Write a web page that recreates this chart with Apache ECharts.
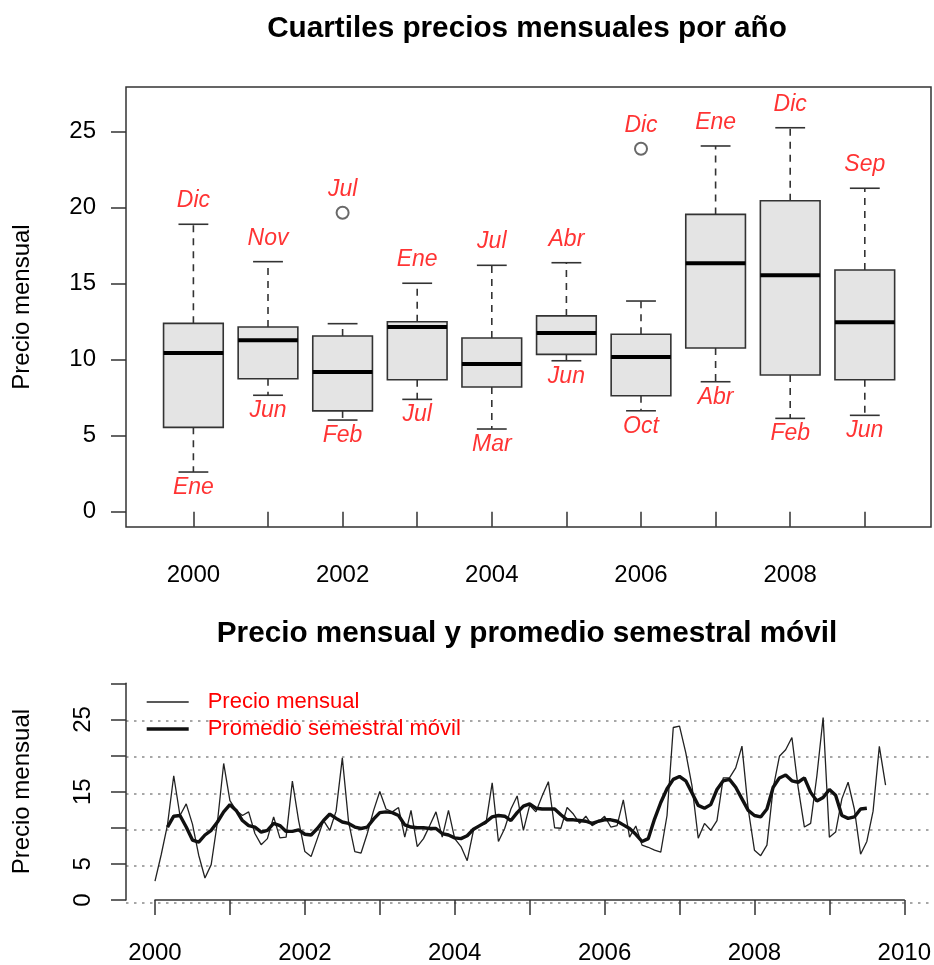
<!DOCTYPE html>
<html><head><meta charset="utf-8">
<script src="https://cdn.jsdelivr.net/npm/echarts@6/dist/echarts.min.js"></script>
<style>html,body{margin:0;padding:0;background:#fff}#c{width:934px;height:965px}</style>
</head><body><div id="c"></div>
<script>
// ---------- data ----------
const years = ['2000','2001','2002','2003','2004','2005','2006','2007','2008','2009'];
const boxMin = [2.61, 7.66, 6.03, 7.39, 5.44, 9.93, 6.64, 8.55, 6.14, 6.34];
const boxQ1  = [5.55, 8.75, 6.63, 8.68, 8.20, 10.35, 7.63, 10.77, 8.99, 8.68];
const boxMed = [10.44, 11.28, 9.19, 12.15, 9.72, 11.76, 10.18, 16.34, 15.55, 12.46];
const boxQ3  = [12.39, 12.15, 11.56, 12.50, 11.43, 12.88, 11.67, 19.56, 20.46, 15.90];
const boxMax = [18.91, 16.45, 12.37, 15.03, 16.21, 16.38, 13.86, 24.06, 25.26, 21.28];
const outlierYear  = [2, 6];          // index into years
const outlierValue = [19.67, 23.88];
const maxMonth = ['Dic','Nov','Jul','Ene','Jul','Abr','Dic','Ene','Dic','Sep'];
const minMonth = ['Ene','Jun','Feb','Jul','Mar','Jun','Oct','Abr','Feb','Jun'];
const topYTicks = [0, 5, 10, 15, 20, 25];

// monthly price Jan 2000 .. Oct 2009
const monthly = [
  2.6, 6.3, 10.4, 17.2, 11.7, 13.3, 10.5, 6.2, 3.05, 4.9, 10.8, 18.9,
  13.75, 12.4, 11.7, 12.2, 9.2, 7.66, 8.5, 11.5, 8.6, 8.7, 16.45, 11.0,
  6.7, 6.03, 8.5, 11.0, 9.65, 12.3, 19.67, 10.8, 6.7, 6.5, 9.2, 12.37,
  15.03, 12.6, 12.2, 12.8, 8.7, 12.4, 7.39, 8.5, 10.3, 12.2, 8.7, 12.4,
  8.5, 7.4, 5.44, 9.65, 10.3, 10.6, 16.21, 8.1, 9.9, 12.6, 14.4, 9.65,
  13.1, 12.2, 14.4, 16.38, 10.0, 9.93, 12.8, 11.9, 10.6, 11.6, 10.3, 10.8,
  11.6, 10.1, 10.3, 13.86, 8.7, 10.25, 7.6, 7.3, 6.9, 6.64, 11.7, 23.88,
  24.06, 20.4, 15.8, 8.55, 10.6, 9.65, 11.0, 16.9, 16.9, 18.3, 21.3, 12.6,
  6.9, 6.14, 7.6, 15.5, 19.9, 20.8, 22.5, 15.6, 10.1, 10.6, 17.2, 25.26,
  8.7, 9.4, 14.0, 16.3, 12.6, 6.34, 8.1, 12.3, 21.28, 15.9
];
// six-month moving average, first value at month index 2 (Mar 2000)
const maStart = 2;
const movingAvg = [
  10.1, 11.6, 11.7, 10.1, 8.3, 8.0, 9.0, 9.65, 10.8, 12.2,
  13.2, 12.4, 11.0, 10.3, 10.1, 9.4, 9.65, 10.6, 10.3, 9.5, 9.5, 9.7,
  9.1, 9.0, 9.9, 11.0, 11.9, 11.3, 10.8, 10.6, 10.1, 9.9, 10.1, 11.2,
  12.1, 12.2, 12.1, 11.7, 10.4, 10.1, 10.0, 10.0, 9.9, 9.9, 9.2, 9.0,
  8.6, 8.5, 8.9, 9.8, 10.3, 10.8, 11.5, 11.7, 11.6, 11.0, 12.1, 13.0,
  13.3, 12.7, 12.6, 12.6, 12.6, 11.8, 11.1, 11.1, 11.0, 10.9, 10.6, 10.9,
  11.1, 11.1, 10.9, 10.4, 9.9, 9.1, 8.1, 8.5, 11.2, 13.5, 15.4, 16.7,
  17.1, 16.5, 14.8, 13.1, 12.7, 13.2, 15.3, 16.5, 16.7, 15.6, 14.0, 12.4,
  11.7, 11.5, 12.6, 15.6, 16.9, 17.3, 16.5, 16.3, 16.9, 14.9, 13.7, 14.2,
  15.3, 14.5, 11.7, 11.3, 11.5, 12.6, 12.7
];
const bottomYLabels = [0, 5, 15, 25];
const bottomXLabels = [2000, 2002, 2004, 2006, 2008, 2010];

// ---------- build ----------
const FONT = "'Liberation Sans', Arial, Helvetica, sans-serif";
const THIN = 1.3, THICK = 3.4;
const boxData = years.map((y, i) => [i, boxMin[i], boxQ1[i], boxMed[i], boxQ3[i], boxMax[i]]);
const outlierData = outlierYear.map((yi, k) => [yi, outlierValue[k]]);
const maxAnchor = years.map((y, i) => {
  let v = boxMax[i];
  outlierYear.forEach((yi, k) => { if (yi === i) v = Math.max(v, outlierValue[k]); });
  return v;
});
const maxLabelData = years.map((y, i) => ({ value: [i, maxAnchor[i]], name: maxMonth[i] }));
const minLabelData = years.map((y, i) => ({ value: [i, boxMin[i]], name: minMonth[i] }));
const monthlyData = monthly.map((v, i) => [2000 + i / 12, v]);
const maData = movingAvg.map((v, k) => [2000 + (k + maStart) / 12, v]);

function renderBox(params, api) {
  const i = api.value(0);
  const pMed = api.coord([i, api.value(3)]);
  const cx = pMed[0];
  const bw = api.size([1, 0])[0] * 0.8;
  const yMin = api.coord([i, api.value(1)])[1];
  const yQ1 = api.coord([i, api.value(2)])[1];
  const yQ3 = api.coord([i, api.value(4)])[1];
  const yMax = api.coord([i, api.value(5)])[1];
  const dash = { stroke: '#333', lineWidth: 1.6, lineDash: [7, 6], fill: null };
  const solid = { stroke: '#333', lineWidth: 1.6, fill: null };
  return {
    type: 'group',
    children: [
      { type: 'line', shape: { x1: cx, y1: yQ3, x2: cx, y2: yMax }, style: dash },
      { type: 'line', shape: { x1: cx, y1: yQ1, x2: cx, y2: yMin }, style: dash },
      { type: 'line', shape: { x1: cx - bw / 4, y1: yMax, x2: cx + bw / 4, y2: yMax }, style: solid },
      { type: 'line', shape: { x1: cx - bw / 4, y1: yMin, x2: cx + bw / 4, y2: yMin }, style: solid },
      { type: 'rect', shape: { x: cx - bw / 2, y: yQ3, width: bw, height: yQ1 - yQ3 },
        style: { fill: '#e4e4e4', stroke: '#333', lineWidth: 1.6 } },
      { type: 'line', shape: { x1: cx - bw / 2, y1: pMed[1], x2: cx + bw / 2, y2: pMed[1] },
        style: { stroke: '#000', lineWidth: 4, fill: null } }
    ]
  };
}

const hidden = { show: false };
const titleStyle = { fontSize: 29.7, fontWeight: 'bold', color: '#000', fontFamily: FONT };
const option = {
  animation: false,
  backgroundColor: '#fff',
  textStyle: { fontFamily: FONT },
  title: [
    { text: 'Cuartiles precios mensuales por año', left: 522, top: 9, textAlign: 'center', textStyle: titleStyle },
    { text: 'Precio mensual y promedio semestral móvil', left: 522, top: 614, textAlign: 'center', textStyle: titleStyle }
  ],
  legend: {
    orient: 'vertical', left: 140, top: 686, itemWidth: 42, itemHeight: 14, itemGap: 5,
    itemStyle: { opacity: 0 },
    textStyle: { color: '#ff0000', fontSize: 22, fontFamily: FONT, padding: [0, 0, 0, 14] },
    data: [
      { name: 'Precio mensual', lineStyle: { width: THIN, color: '#222' } },
      { name: 'Promedio semestral móvil', lineStyle: { width: THICK, color: '#111' } }
    ],
    selectedMode: false
  },
  grid: [
    { left: 126, top: 87, width: 805, height: 440, show: true, borderColor: '#333', borderWidth: 1.5, backgroundColor: 'transparent' },
    { left: 156.1, top: 131.7, width: 746, height: 380 },
    { left: 126, top: 720.7, width: 812, height: 181.6 },
    { left: 155, top: 683.3, width: 751, height: 219 }
  ],
  xAxis: [
    { gridIndex: 0, type: 'value', min: 0, max: 1, show: false },
    { gridIndex: 1, type: 'category', data: years, offset: 15.3,
      axisLine: hidden,
      axisTick: { show: true, alignWithLabel: true, interval: 0, length: 15, lineStyle: { color: '#333', width: 1.5 } },
      axisLabel: { interval: 1, margin: 36, fontSize: 24, color: '#000', fontFamily: FONT } },
    { gridIndex: 2, type: 'value', min: 0, max: 1, show: false },
    { gridIndex: 3, type: 'value', min: 2000, max: 2010, interval: 1, offset: 10,
      axisLine: { show: true, lineStyle: { color: '#333', width: 1.5 } },
      axisTick: { show: true, length: 15, lineStyle: { color: '#333', width: 1.5 } },
      splitLine: hidden,
      axisLabel: { margin: 31, fontSize: 24, color: '#000', fontFamily: FONT,
        formatter: v => bottomXLabels.includes(Math.round(v)) ? String(Math.round(v)) : '' } }
  ],
  yAxis: [
    { gridIndex: 0, type: 'value', min: 0, max: 1, name: 'Precio mensual', nameLocation: 'middle', nameGap: 92,
      nameTextStyle: { fontSize: 24, color: '#000', fontFamily: FONT },
      axisLine: hidden, axisTick: hidden, axisLabel: hidden, splitLine: hidden },
    { gridIndex: 1, type: 'value', min: 0, max: 25, interval: 5, offset: 30.1,
      axisLine: hidden,
      axisTick: { show: true, length: 15, lineStyle: { color: '#333', width: 1.5 } },
      axisLabel: { margin: 30, fontSize: 24, color: '#000', fontFamily: FONT,
        formatter: v => topYTicks.includes(v) ? String(v) : '' },
      splitLine: hidden },
    { gridIndex: 2, type: 'value', min: 0, max: 25, interval: 5,
      axisLine: hidden, axisTick: hidden, axisLabel: hidden,
      splitLine: { show: true, lineStyle: { color: '#8a8a8a', width: 1.5, type: [2.5, 5.5] } } },
    { gridIndex: 3, type: 'value', min: 0, max: 30, interval: 5, offset: 29,
      name: 'Precio mensual', nameLocation: 'middle', nameGap: 92,
      nameTextStyle: { fontSize: 24, color: '#000', fontFamily: FONT },
      axisLine: { show: true, lineStyle: { color: '#333', width: 1.5 } },
      axisTick: { show: true, length: 15, lineStyle: { color: '#333', width: 1.5 } },
      axisLabel: { rotate: 90, margin: 31, fontSize: 24, color: '#000', fontFamily: FONT,
        formatter: v => bottomYLabels.includes(v) ? String(v) : '' },
      splitLine: hidden }
  ],
  series: [
    { type: 'custom', name: 'box', xAxisIndex: 1, yAxisIndex: 1, renderItem: renderBox,
      encode: { x: 0, y: [1, 2, 3, 4, 5] }, data: boxData, clip: false, silent: true, z: 3 },
    { type: 'scatter', name: 'outliers', xAxisIndex: 1, yAxisIndex: 1, data: outlierData,
      symbol: 'emptyCircle', symbolSize: 12, clip: false, silent: true, z: 4,
      itemStyle: { color: '#444', borderWidth: 1.5 } },
    { type: 'scatter', name: 'maxLabels', xAxisIndex: 1, yAxisIndex: 1, data: maxLabelData,
      symbolSize: 0, clip: false, silent: true, z: 5,
      label: { show: true, position: 'top', distance: 12, formatter: '{b}', color: '#ff0000',
        fontSize: 23, fontStyle: 'italic', fontFamily: FONT } },
    { type: 'scatter', name: 'minLabels', xAxisIndex: 1, yAxisIndex: 1, data: minLabelData,
      symbolSize: 0, clip: false, silent: true, z: 5,
      label: { show: true, position: 'bottom', distance: 4, formatter: '{b}', color: '#ff0000',
        fontSize: 23, fontStyle: 'italic', fontFamily: FONT } },
    { type: 'line', name: 'Precio mensual', xAxisIndex: 3, yAxisIndex: 3, data: monthlyData,
      symbol: 'none', clip: false, silent: true, z: 3,
      lineStyle: { color: '#222', width: THIN }, itemStyle: { color: '#222' } },
    { type: 'line', name: 'Promedio semestral móvil', xAxisIndex: 3, yAxisIndex: 3, data: maData,
      symbol: 'none', clip: false, silent: true, z: 4,
      lineStyle: { color: '#111', width: THICK }, itemStyle: { color: '#111' } }
  ]
};
const chart = echarts.init(document.getElementById('c'), null, { renderer: 'canvas' });
chart.setOption(option);
</script>
</body></html>
